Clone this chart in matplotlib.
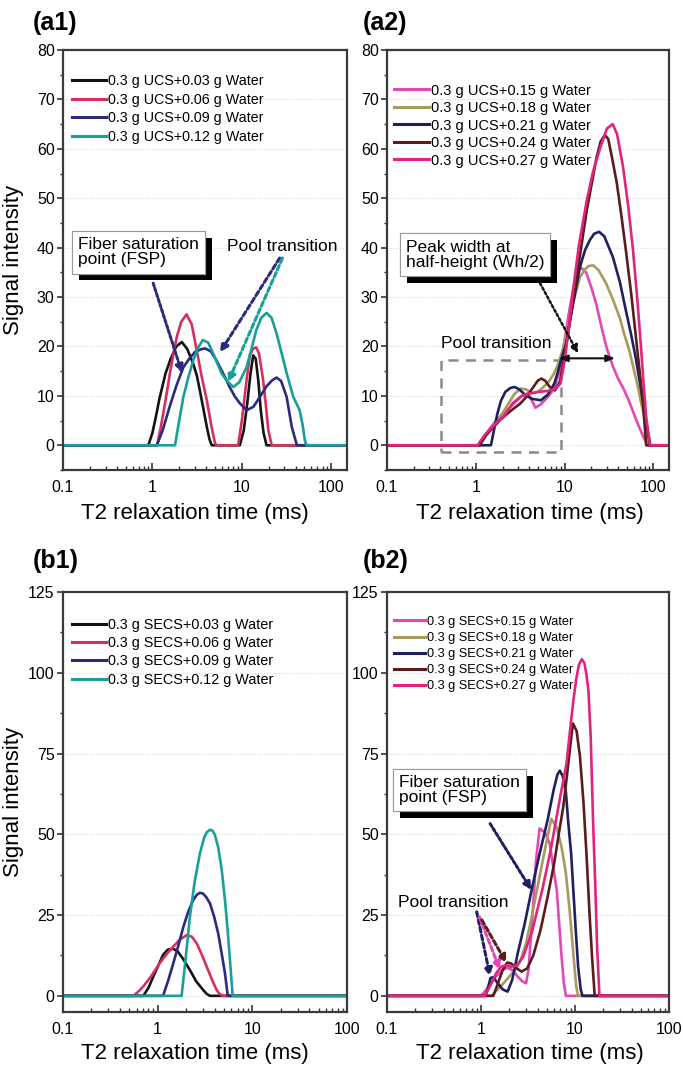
import numpy as np
import matplotlib
matplotlib.use("Agg")
import matplotlib.pyplot as plt
import matplotlib.patheffects as pe
from matplotlib.lines import Line2D
from matplotlib.patches import Rectangle
from matplotlib.ticker import FixedLocator, FixedFormatter, LogLocator, NullFormatter, MultipleLocator

plt.rcParams["font.family"] = ["Liberation Sans", "DejaVu Sans"]

# ---------------- data ----------------
# (a1) UCS, low water
ucs_003_t2 = [0.1, 0.9, 1.0, 1.1, 1.2, 1.4, 1.6, 1.85, 2.13, 2.45, 2.86, 3.15, 3.4, 3.75, 4.06, 4.35, 4.6,
              9.5, 10.5, 11.5, 12.5, 13.4, 14.3, 15.3, 16.3, 17.5, 18.9, 150]
ucs_003_s = [0, 0, 2.5, 6, 9.5, 14.5, 17.5, 20, 20.9, 19.5, 16.5, 14, 11, 7, 3.7, 1.2, 0,
             0, 3, 8.5, 14.5, 18.2, 17.5, 13, 7, 2.5, 0, 0]
ucs_006_t2 = [0.1, 1.13, 1.25, 1.4, 1.57, 1.72, 1.87, 2.1, 2.41, 2.75, 3.13, 3.55, 4.06, 4.5, 5.0, 5.2,
              9.1, 10.0, 11.3, 12.3, 13.4, 14.5, 15.6, 17.3, 18.6, 19.8, 21.6, 150]
ucs_006_s = [0, 0, 4, 9, 14.6, 18.5, 21.9, 25, 26.5, 24.5, 19.2, 14, 9.1, 4.5, 0.5, 0,
             0, 5, 13.2, 18.2, 19.6, 19.8, 18.5, 13.2, 8, 3, 0, 0]
ucs_009_t2 = [0.1, 1.12, 1.3, 1.57, 1.85, 2.22, 2.6, 3.0, 3.45, 3.9, 4.5, 5.2, 6.2, 7.3, 8.4, 9.5, 11.3,
              13.5, 15.9, 19, 22, 24.5, 27.5, 31.7, 36.2, 41.3, 150]
ucs_009_s = [0, 0, 3, 8, 12, 15.8, 17.6, 18.9, 19.4, 19.6, 19, 17.2, 14.5, 11.8, 9.8, 8.5, 7.1,
             7.8, 9.8, 12, 13.2, 13.7, 13, 9.8, 3.7, 0, 0]
ucs_012_t2 = [0.1, 1.79, 1.95, 2.22, 2.5, 2.86, 3.25, 3.66, 4.2, 4.78, 5.95, 7.0, 8.04, 9.4, 11.3, 12.8,
              14.5, 16.5, 18.9, 21.5, 24.5, 28, 31.7, 37.6, 44.3, 48, 50.6, 53, 150]
ucs_012_s = [0, 0, 4, 9.8, 13.5, 17.2, 19.8, 21.3, 20.8, 18.6, 14.5, 12.8, 11.8, 12.8, 15.8, 19.5,
             23.3, 25.8, 26.8, 25.8, 22.6, 18.5, 14.6, 9.8, 7.1, 4, 1.0, 0, 0]

# (a2) UCS, high water
ucs_015_t2 = [0.1, 1.05, 1.25, 1.48, 1.8, 2.23, 2.7, 3.2, 3.85, 4.3, 4.7, 5.4, 6.5, 7.6, 8.6, 9.6, 11,
              12.4, 13.6, 15, 17.5, 20, 22.8, 26, 30, 35, 40, 46, 53, 60, 68, 76, 86, 150]
ucs_015_s = [0, 0, 1.8, 3.7, 5.5, 7, 8.5, 9.8, 10.5, 9, 7.6, 8.3, 9.8, 11.5, 14.5, 19.2, 26,
             31.4, 34.8, 36.1, 35, 32, 28.5, 24, 19.5, 16, 13.5, 11.5, 9, 6.5, 4, 2, 0, 0]
ucs_018_t2 = [0.1, 1.1, 1.3, 1.5, 1.75, 2.0, 2.35, 2.7, 3.2, 3.7, 4.3, 5.0, 5.8, 6.7, 7.6, 8.5, 9.6,
              10.5, 12.5, 14.9, 17, 18.7, 21.1, 24, 29.5, 35, 41.5, 47, 53.6, 60, 67, 73, 79, 89, 150]
ucs_018_s = [0, 0, 2, 3.5, 5, 6.5, 8.5, 10.3, 11.5, 11.3, 10.5, 10.8, 11.8, 13, 14.5, 16.5, 19.5,
             22.6, 29, 34, 35.6, 36.3, 36.4, 35.5, 32.7, 29.5, 26, 22.5, 19.2, 15.5, 11.8, 8.5, 5.7, 0, 0]
ucs_021_t2 = [0.1, 1.48, 1.6, 1.75, 1.92, 2.15, 2.45, 2.75, 3.1, 3.6, 4.3, 5.4, 6.5, 7.66, 8.3, 9.1,
              10.45, 12, 14.9, 17, 19.2, 21.5, 24.5, 28, 35, 42, 49, 56, 63, 70, 77, 85, 92, 150]
ucs_021_s = [0, 0, 3, 6.4, 9, 10.8, 11.6, 11.8, 11.3, 10.2, 9.4, 9.1, 10.3, 12.5, 14.5, 17.2,
             20.6, 27, 36.1, 39.5, 41.5, 42.8, 43.2, 42.3, 38.1, 33, 27.3, 22.5, 17.9, 13, 8.4, 3.5, 0, 0]
ucs_024_t2 = [0.1, 1.11, 1.3, 1.55, 1.87, 2.3, 2.7, 3.15, 3.8, 4.45, 5.0, 5.5, 6.1, 6.8, 7.8, 8.9,
              10.5, 12.4, 14.5, 17.8, 20.5, 23, 25.5, 28.4, 31, 34, 38.8, 44, 49, 56, 63, 70, 76, 83, 150]
ucs_024_s = [0, 0, 2, 3.5, 5.1, 6.5, 7.5, 8.4, 10, 11.8, 13.1, 13.5, 13, 11.8, 11.1, 13,
             20.6, 29, 37, 47.6, 53.5, 58.4, 61.5, 62.8, 62, 58.5, 53, 46, 39.5, 31, 22.6, 15, 9.1, 0, 0]
ucs_027_t2 = [0.1, 1.05, 1.25, 1.5, 1.8, 2.1, 2.6, 3.3, 4.0, 5.0, 6.5, 8.0, 9.0, 10.0, 11.2, 12.4,
              14.5, 17.8, 21, 25.4, 30, 34.8, 39, 45.6, 52, 59, 66, 73, 78, 83, 92, 150]
ucs_027_s = [0, 0, 2, 3.5, 5, 6, 8.5, 10, 10.5, 10.8, 11, 11.5, 12.5, 17, 24, 31,
             40.5, 49.6, 55.5, 60.4, 64.1, 65, 63, 56.3, 48.5, 39.5, 29.5, 19.2, 12, 5.7, 0, 0]

# (b1) SECS, low water
secs_003_t2 = [0.1, 0.705, 0.8, 0.9, 1.02, 1.14, 1.28, 1.45, 1.62, 1.85, 2.19, 2.55, 3.03, 3.3, 3.57, 100]
secs_003_s = [0, 0, 2.5, 6, 9.5, 12.7, 14.3, 14.6, 13.8, 11.5, 8, 4.5, 1.8, 0.6, 0, 0]
secs_006_t2 = [0.1, 0.553, 0.62, 0.705, 0.85, 1.05, 1.25, 1.46, 1.7, 2.02, 2.3, 2.58, 2.9, 3.3, 3.75,
               4.18, 4.5, 4.9, 100]
secs_006_s = [0, 0, 1.2, 2.9, 6, 10.1, 13, 15.2, 17.3, 18.8, 18.3, 16.3, 13, 9, 5,
              1.9, 0.6, 0, 0]
secs_009_t2 = [0.1, 1.14, 1.3, 1.46, 1.65, 1.87, 2.1, 2.37, 2.6, 2.79, 3.0, 3.25, 3.57, 3.95, 4.36, 4.75,
               5.14, 5.5, 100]
secs_009_s = [0, 0, 5, 10, 15.5, 21.4, 26, 29.6, 31.3, 31.9, 31.7, 30.6, 28.6, 24.5, 19.3, 13,
              7, 0, 0]
secs_012_t2 = [0.1, 1.79, 1.95, 2.19, 2.45, 2.79, 3.1, 3.3, 3.57, 3.8, 4.0, 4.36, 4.75, 5.14, 5.5, 5.8,
               6.2, 100]
secs_012_s = [0, 0, 10, 24.5, 35, 44, 49, 50.6, 51.4, 51.1, 50, 46, 39, 29.6, 20, 11.1,
              0, 0]

# (b2) SECS, high water
secs_015_t2 = [0.1, 1.0, 1.15, 1.3, 1.5, 1.7, 1.9, 2.15, 2.45, 2.75, 3.01, 3.2, 3.54, 3.85, 4.2, 4.8,
               5.4, 6.0, 6.4, 6.8, 7.2, 7.6, 8.0, 100]
secs_015_s = [0, 0, 2, 4.5, 6.5, 8, 8.7, 8, 6, 4.5, 3.9, 8, 25.5, 42, 51.8, 50.5,
              47, 38, 32.7, 22, 12, 4, 0, 0]
secs_018_t2 = [0.1, 1.3, 1.5, 1.75, 2.0, 2.3, 2.6, 3.0, 3.5, 4.2, 5.0, 5.6, 6.4, 7.2, 8.0, 8.8, 9.6,
               10.3, 10.8, 100]
secs_018_s = [0, 0, 2, 4, 6, 8, 10.5, 16, 25, 37, 48, 54.8, 52, 46, 38, 26, 13,
              3, 0, 0]
secs_021_t2 = [0.1, 1.12, 1.2, 1.26, 1.35, 1.5, 1.7, 1.92, 2.15, 2.46, 2.9, 3.45, 4.2, 5.1, 5.9, 6.5,
               6.9, 7.4, 8.0, 8.5, 9.1, 9.6, 10.2, 10.8, 11.5, 12.0, 100]
secs_021_s = [0, 0, 3, 5.5, 5.8, 4, 2, 1.3, 5, 13.2, 22, 32.7, 44, 54.3, 63.5, 68.5,
              69.7, 68, 63, 53.3, 44, 32.7, 20, 9, 2, 0, 0]
secs_024_t2 = [0.1, 1.35, 1.5, 1.7, 1.9, 2.1, 2.4, 2.7, 3.1, 3.6, 4.3, 5.1, 6.0, 6.8, 7.5, 8.2, 8.8,
               9.5, 10.4, 11.3, 12.3, 13.3, 14.3, 15.2, 16.2, 100]
secs_024_s = [0, 0, 3.5, 8, 10.3, 10, 8.5, 7.5, 8.5, 12.5, 20.4, 30.5, 41, 51, 58.5, 68, 76,
              84.3, 82, 74, 60, 43, 25, 11.9, 0, 0]
secs_027_t2 = [0.1, 1.1, 1.3, 1.45, 1.63, 1.85, 2.1, 2.4, 2.8, 3.5, 4.5, 5.5, 7.0, 8.1, 9.0, 9.6, 10.3,
               11.0, 11.8, 12.6, 13.3, 13.9, 14.7, 15.6, 16.4, 17.2, 18.2, 100]
secs_027_s = [0, 0, 4, 7, 9, 9.5, 9, 9.5, 12, 20, 33, 45, 62, 71.7, 84, 91.3, 98,
              102.5, 104.2, 103, 99, 94.4, 80, 53.3, 35, 15, 0, 0]

a1_labels = ["0.3 g UCS+0.03 g Water", "0.3 g UCS+0.06 g Water",
             "0.3 g UCS+0.09 g Water", "0.3 g UCS+0.12 g Water"]
a2_labels = ["0.3 g UCS+0.15 g Water", "0.3 g UCS+0.18 g Water", "0.3 g UCS+0.21 g Water",
             "0.3 g UCS+0.24 g Water", "0.3 g UCS+0.27 g Water"]
b1_labels = ["0.3 g SECS+0.03 g Water", "0.3 g SECS+0.06 g Water",
             "0.3 g SECS+0.09 g Water", "0.3 g SECS+0.12 g Water"]
b2_labels = ["0.3 g SECS+0.15 g Water", "0.3 g SECS+0.18 g Water", "0.3 g SECS+0.21 g Water",
             "0.3 g SECS+0.24 g Water", "0.3 g SECS+0.27 g Water"]

low_colors = ["#141414", "#d6305c", "#2c2a7c", "#17a09a"]
high_colors = ["#e448b8", "#a89a5c", "#1f2060", "#5c1c1c", "#e2247c"]

W, H = 683, 1069
fig = plt.figure(figsize=(W / 100, H / 100), dpi=100)


def px_axes(left, top, right, bottom):
    return fig.add_axes([left / W, 1 - bottom / H, (right - left) / W, (bottom - top) / H])


def style_axes(ax, xmax, ymax, ystep, yminor):
    ax.set_xscale("log")
    ax.set_xlim(0.1, xmax)
    ax.set_ylim(-5, ymax)
    ax.xaxis.set_major_locator(FixedLocator([0.1, 1, 10, 100]))
    ax.xaxis.set_major_formatter(FixedFormatter(["0.1", "1", "10", "100"]))
    ax.xaxis.set_minor_locator(LogLocator(base=10, subs=np.arange(2, 10)))
    ax.xaxis.set_minor_formatter(NullFormatter())
    ax.yaxis.set_major_locator(MultipleLocator(ystep))
    ax.yaxis.set_minor_locator(MultipleLocator(yminor))
    ax.set_yticks(np.arange(0, ymax + 0.1, ystep))
    ax.tick_params(axis="x", which="both", direction="in", labelsize=11.5, pad=7, color="#333")
    ax.tick_params(axis="x", which="major", length=5, width=1.2)
    ax.tick_params(axis="x", which="minor", length=3, width=1.0)
    ax.tick_params(axis="y", which="both", direction="out", labelsize=11.5, pad=2, color="#333")
    ax.tick_params(axis="y", which="major", length=4, width=1.2)
    ax.tick_params(axis="y", which="minor", length=2.5, width=1.0)
    for sp in ax.spines.values():
        sp.set_linewidth(1.6)
        sp.set_color("#3a3a3a")
    ax.yaxis.grid(True, which="major", ls=":", color="#d6d6d6", lw=0.8)
    ax.set_axisbelow(True)


def add_legend(ax, labels, colors, x0, y0, fs, spacing):
    handles = [Line2D([], [], color=c, lw=2.2) for c in colors]
    ax.legend(handles, labels, loc="upper left", bbox_to_anchor=(x0, y0), frameon=False,
              fontsize=fs, handlelength=2.4, handletextpad=0.15, labelspacing=spacing,
              borderpad=0, borderaxespad=0)


def shadow_box(ax, x, y, text, fs=12.5):
    t = ax.text(x, y, text, transform=ax.transAxes, fontsize=fs, va="center", ha="left",
                linespacing=1.0,
                bbox=dict(boxstyle="square,pad=0.35", fc="white", ec="#9a9a9a", lw=0.8))
    t.get_bbox_patch().set_path_effects(
        [pe.withSimplePatchShadow(offset=(5, -5), shadow_rgbFace="black", alpha=1.0), pe.Normal()])
    return t


def arrow(ax, start, end, color, ls=(0, (1, 0.8)), lw=2.2):
    ax.annotate("", xy=end, xytext=start,
                arrowprops=dict(arrowstyle="-|>,head_length=0.45,head_width=0.22", color=color,
                                lw=lw, linestyle=ls, shrinkA=0, shrinkB=0))


lw = 1.9

# ---------------- (a1) ----------------
ax1 = px_axes(63, 50, 347, 470)
style_axes(ax1, 150, 80, 10, 5)
for t2, s, c in zip([ucs_003_t2, ucs_006_t2, ucs_009_t2, ucs_012_t2],
                    [ucs_003_s, ucs_006_s, ucs_009_s, ucs_012_s], low_colors):
    ax1.plot(t2, s, color=c, lw=lw)
add_legend(ax1, a1_labels, low_colors, 0.03, 0.943, 10.3, 0.33)
shadow_box(ax1, 0.053, 0.518, "Fiber saturation\npoint (FSP)")
ax1.text(0.577, 0.531, "Pool transition", transform=ax1.transAxes, fontsize=12.5, va="center")
arrow(ax1, (1.02, 32.8), (2.15, 14.6), "#2c2a7c")
arrow(ax1, (26.5, 37.9), (5.7, 18.8), "#2c2a7c", ls=(0, (1.6, 1)))
arrow(ax1, (28.5, 37.9), (7.0, 12.8), "#17a09a", ls=(0, (1.6, 1)))

# ---------------- (a2) ----------------
ax2 = px_axes(387, 50, 669, 470)
style_axes(ax2, 150, 80, 10, 5)
for t2, s, c in zip([ucs_015_t2, ucs_018_t2, ucs_021_t2, ucs_024_t2, ucs_027_t2],
                    [ucs_015_s, ucs_018_s, ucs_021_s, ucs_024_s, ucs_027_s], high_colors):
    ax2.plot(t2, s, color=c, lw=lw)
add_legend(ax2, a2_labels, high_colors, 0.025, 0.92, 10.5, 0.24)
shadow_box(ax2, 0.067, 0.513, "Peak width at\nhalf-height (Wh/2)")
ax2.text(0.191, 0.302, "Pool transition", transform=ax2.transAxes, fontsize=12.5, va="center")
ax2.add_patch(Rectangle((0.406, -1.4), 9.1 - 0.406, 18.6, fill=False, ec="#8a8a8a", lw=1.8,
                        ls=(0, (4, 3))))
arrow(ax2, (5.29, 32.8), (14.2, 18.6), "#111111", ls=(0, (1, 1)), lw=1.8)
ax2.annotate("", xy=(37, 17.6), xytext=(8.65, 17.6),
             arrowprops=dict(arrowstyle="<|-|>,head_length=0.5,head_width=0.2", color="#111111",
                             lw=1.5, shrinkA=0, shrinkB=0))

# ---------------- (b1) ----------------
ax3 = px_axes(63, 592, 347, 1012)
style_axes(ax3, 100, 125, 25, 12.5)
for t2, s, c in zip([secs_003_t2, secs_006_t2, secs_009_t2, secs_012_t2],
                    [secs_003_s, secs_006_s, secs_009_s, secs_012_s], low_colors):
    ax3.plot(t2, s, color=c, lw=lw)
add_legend(ax3, b1_labels, low_colors, 0.03, 0.938, 10.4, 0.29)

# ---------------- (b2) ----------------
ax4 = px_axes(387, 592, 669, 1012)
style_axes(ax4, 100, 125, 25, 12.5)
for t2, s, c in zip([secs_015_t2, secs_018_t2, secs_021_t2, secs_024_t2, secs_027_t2],
                    [secs_015_s, secs_018_s, secs_021_s, secs_024_s, secs_027_s], high_colors):
    ax4.plot(t2, s, color=c, lw=lw)
add_legend(ax4, b2_labels, high_colors, 0.025, 0.943, 9.2, 0.32)
shadow_box(ax4, 0.043, 0.529, "Fiber saturation\npoint (FSP)")
ax4.text(0.039, 0.26, "Pool transition", transform=ax4.transAxes, fontsize=12.5, va="center")
arrow(ax4, (1.25, 53.3), (3.45, 32.7), "#1f2060")
arrow(ax4, (0.90, 26.0), (1.25, 6.0), "#1f2060", ls=(0, (1.6, 1)))
arrow(ax4, (0.96, 24.5), (1.59, 8.0), "#e448b8", ls=(0, (1.6, 1)))
arrow(ax4, (1.02, 23.5), (1.87, 10.1), "#5c1c1c", ls=(0, (1.6, 1)))

# labels
for ax, xc, yc in [(ax1, 0.465, -0.079), (ax2, 0.505, -0.079), (ax3, 0.465, -0.074), (ax4, 0.505, -0.074)]:
    ax.set_xlabel("T2 relaxation time (ms)", fontsize=16)
    ax.xaxis.set_label_coords(xc, yc)
for ax in [ax1, ax3]:
    ax.set_ylabel("Signal intensity", fontsize=16)
    ax.yaxis.set_label_coords(-0.137, 0.5)

for txt, x, y in [("(a1)", 33, 23), ("(a2)", 363, 23), ("(b1)", 33, 561), ("(b2)", 363, 561)]:
    fig.text(x / W, 1 - y / H, txt, fontsize=18, fontweight="bold", va="center", ha="left")

fig.savefig("out.png", dpi=100)
